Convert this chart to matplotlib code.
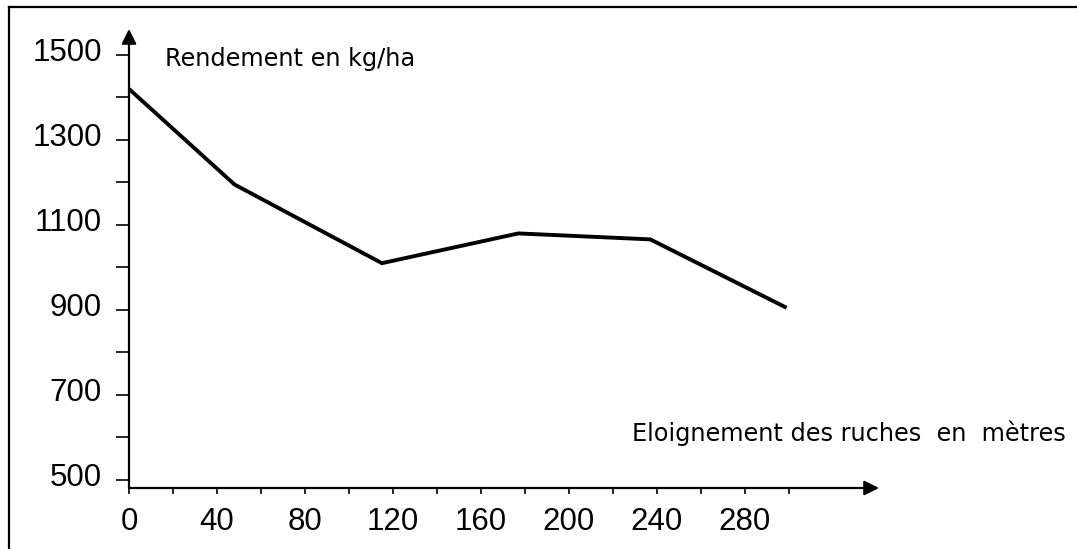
import matplotlib
matplotlib.use("Agg")
import matplotlib.pyplot as plt
from matplotlib.lines import Line2D
from matplotlib.transforms import ScaledTranslation

# ── data ─────────────────────────────────────────────────────────────────────
distance = [0, 48, 115, 177, 237, 299]          # m
rendement = [1420, 1195, 1010, 1080, 1066, 905]  # kg/ha

y_major = [500, 700, 900, 1100, 1300, 1500]
y_minor = [600, 800, 1000, 1200, 1400]
x_major = [0, 40, 80, 120, 160, 200, 240, 280]
x_minor = [20, 60, 100, 140, 180, 220, 260, 300]

W, H = 1077, 549
fig = plt.figure(figsize=(W / 100, H / 100), dpi=100, facecolor="white")

# axes placed in pixel terms: origin (129, 488), arrow tips at x=879 / y=29
ax = fig.add_axes([129 / W, (H - 488) / H, (879 - 129) / W, (488 - 29) / H])
ax.set_xlim(0, 341)
ax.set_ylim(481, 1561)

ax.plot(distance, rendement, color="black", lw=2.8, solid_joinstyle="miter",
        solid_capstyle="butt", clip_on=False, zorder=3)

for s in ax.spines.values():
    s.set_visible(False)

# axes drawn as arrows
arrow = dict(arrowstyle="-|>", color="black", lw=1.6, mutation_scale=22,
             shrinkA=0, shrinkB=0)
ax.annotate("", xy=(0, 1), xytext=(0, 0), xycoords="axes fraction",
            arrowprops=arrow)
ax.annotate("", xy=(1, 0), xytext=(0, 0), xycoords="axes fraction",
            arrowprops=arrow)

TICK_FONT = ["Liberation Sans", "DejaVu Sans"]

ax.set_yticks(y_major)
ax.set_yticks(y_minor, minor=True)
ax.set_yticklabels([str(v) for v in y_major], fontsize=22.5, family=TICK_FONT)
ax.tick_params(axis="y", which="both", direction="out", length=9.5, width=1.2,
               pad=10)

ax.set_xticks(x_major)
ax.set_xticks(x_minor, minor=True)
ax.set_xticklabels([str(v) for v in x_major], fontsize=22.5, family=TICK_FONT)
ax.tick_params(axis="x", which="both", direction="out", length=4, width=1.2,
               pad=10)

# y labels sit a little above their ticks in the original
off = ScaledTranslation(0, 4 / 72, fig.dpi_scale_trans)
for lab in ax.get_yticklabels():
    lab.set_transform(lab.get_transform() + off)

fig.text(165 / W, 1 - 66 / H, "Rendement en kg/ha", fontsize=17.3,
         family="DejaVu Sans", ha="left", va="baseline")
fig.text(632 / W, 1 - 441 / H, "Eloignement des ruches  en  mètres",
         fontsize=17.3, family="DejaVu Sans", ha="left", va="baseline")

# scanned frame: top and left edges only
fig.add_artist(Line2D([9 / W, 1], [1 - 7 / H, 1 - 7 / H], color="black", lw=1.6,
                      transform=fig.transFigure))
fig.add_artist(Line2D([9 / W, 9 / W], [0, 1 - 7 / H], color="black", lw=1.6,
                      transform=fig.transFigure))

fig.savefig("out.png", dpi=100, facecolor="white")
